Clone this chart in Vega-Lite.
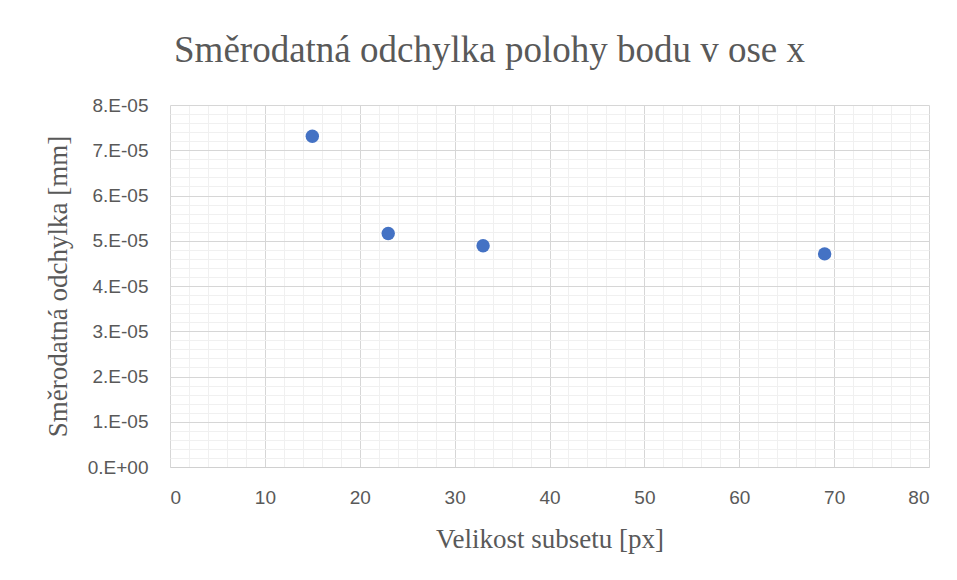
{
  "$schema": "https://vega.github.io/schema/vega-lite/v6.json",
  "width": 759,
  "height": 362,
  "autosize": "none",
  "padding": {"left": 170, "top": 105, "right": 28, "bottom": 113},
  "background": "white",
  "config": {"view": {"stroke": null}},
  "title": {
    "text": "Směrodatná odchylka polohy bodu v ose x",
    "font": "Liberation Serif",
    "fontSize": 37,
    "fontWeight": "normal",
    "color": "#595959",
    "anchor": "middle",
    "dx": -60,
    "offset": 26
  },
  "data": {
    "values": [
      {"subset": 15, "sd": 0.0000731},
      {"subset": 23, "sd": 0.0000516},
      {"subset": 33, "sd": 0.0000489},
      {"subset": 69, "sd": 0.0000471}
    ]
  },
  "layer": [
    {
      "mark": {"type": "point", "opacity": 0},
      "encoding": {
        "x": {
          "field": "subset", "type": "quantitative",
          "scale": {"domain": [0, 80], "nice": false},
          "axis": {"orient": "top", "grid": true, "values": [2,4,6,8,12,14,16,18,22,24,26,28,32,34,36,38,42,44,46,48,52,54,56,58,62,64,66,68,72,74,76,78], "labels": false, "ticks": false, "domain": false, "title": null, "gridColor": "#f0f0f0", "gridWidth": 1}
        },
        "y": {
          "field": "sd", "type": "quantitative",
          "scale": {"domain": [0, 0.00008], "nice": false},
          "axis": {"orient": "right", "grid": true, "values": [0.000002,0.000004,0.000006,0.000008,0.000012,0.000014,0.000016,0.000018,0.000022,0.000024,0.000026,0.000028,0.000032,0.000034,0.000036,0.000038,0.000042,0.000044,0.000046,0.000048,0.000052,0.000054,0.000056,0.000058,0.000062,0.000064,0.000066,0.000068,0.000072,0.000074,0.000076,0.000078], "labels": false, "ticks": false, "domain": false, "title": null, "gridColor": "#f0f0f0", "gridWidth": 1}
        }
      }
    },
    {
      "mark": {"type": "point", "filled": true, "opacity": 1, "color": "#4472C4", "size": 180},
      "encoding": {
        "x": {
          "field": "subset", "type": "quantitative",
          "scale": {"domain": [0, 80], "nice": false},
          "axis": {
            "orient": "bottom",
            "grid": true,
            "values": [0,10,20,30,40,50,60,70,80],
            "title": "Velikost subsetu [px]",
            "titleFont": "Liberation Serif", "titleFontSize": 27, "titleFontWeight": "normal", "titleColor": "#595959", "titlePadding": 19,
            "labelFont": "Liberation Sans", "labelFontSize": 19, "labelColor": "#595959", "labelPadding": 21,
            "ticks": false, "domain": true, "domainColor": "#d0d0d0",
            "gridColor": "#d6d6d6", "gridWidth": 1
          }
        },
        "y": {
          "field": "sd", "type": "quantitative",
          "scale": {"domain": [0, 0.00008], "nice": false},
          "axis": {
            "orient": "left",
            "grid": true,
            "values": [0,0.00001,0.00002,0.00003,0.00004,0.00005,0.00006,0.00007,0.00008],
            "labelExpr": "datum.value == 0 ? '0.E+00' : format(datum.value * 100000, '.0f') + '.E-05'",
            "title": "Směrodatná odchylka [mm]",
            "titleFont": "Liberation Serif", "titleFontSize": 27, "titleFontWeight": "normal", "titleColor": "#595959", "titlePadding": 15,
            "labelFont": "Liberation Sans", "labelFontSize": 19, "labelColor": "#595959", "labelPadding": 22,
            "ticks": false, "domain": false,
            "gridColor": "#d6d6d6", "gridWidth": 1
          }
        }
      }
    }
  ],
  "resolve": {"axis": {"x": "independent", "y": "independent"}}
}
